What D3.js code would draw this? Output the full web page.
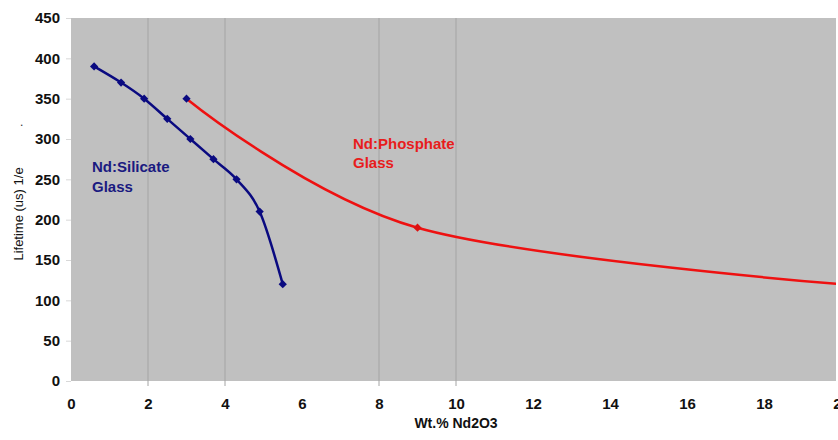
<!DOCTYPE html>
<html>
<head>
<meta charset="utf-8">
<script src="https://cdn.jsdelivr.net/npm/d3@7"></script>
<style>
  body { margin: 0; background: #fff; }
  text { font-family: "Liberation Sans", Arial, sans-serif; }
</style>
</head>
<body>
<svg id="chart"></svg>
<script>
// values
const silicateX = [0.6, 1.3, 1.9, 2.5, 3.1, 3.7, 4.3, 4.9, 5.5];
const silicateY = [390, 370, 350, 325, 300, 275, 250, 210, 120];
const phosphateX = [3, 9, 20];
const phosphateY = [350, 190, 120];
const xTicks = [0, 2, 4, 6, 8, 10, 12, 14, 16, 18, 20];
const yTicks = [0, 50, 100, 150, 200, 250, 300, 350, 400, 450];
const gridX = [2, 4, 8, 10];

function createChart() {
    const width = 838;
    const height = 440;
    const margin = { top: 18, left: 71, bottom: 59 };
    const plotRight = 836;
    const navy = "#0a0a80";
    const red = "#ee1111";

    const svg = d3.select("#chart")
        .attr("width", width)
        .attr("height", height);

    const xScale = d3.scaleLinear()
        .domain([0, 20])
        .range([margin.left, 841]);

    const yScale = d3.scaleLinear()
        .domain([0, 450])
        .range([height - margin.bottom, margin.top]);

    // plot background
    svg.append("rect")
        .attr("x", margin.left)
        .attr("y", yScale(450))
        .attr("width", plotRight - margin.left)
        .attr("height", yScale(0) - yScale(450))
        .attr("fill", "#c0c0c0");

    svg.append("clipPath")
        .attr("id", "plot-clip")
        .append("rect")
        .attr("x", margin.left)
        .attr("y", yScale(450))
        .attr("width", plotRight - margin.left)
        .attr("height", yScale(0) - yScale(450));

    // vertical grid lines
    svg.append("g")
        .selectAll("line")
        .data(gridX)
        .enter()
        .append("line")
        .attr("x1", d => xScale(d))
        .attr("x2", d => xScale(d))
        .attr("y1", yScale(450))
        .attr("y2", yScale(0) + 5)
        .attr("stroke", "#a4a4a4")
        .attr("stroke-width", 1);

    // y axis
    const yAxis = d3.axisLeft(yScale)
        .tickValues(yTicks)
        .tickSize(5)
        .tickPadding(6);

    const gy = svg.append("g")
        .attr("transform", `translate(${margin.left}, 0)`)
        .call(yAxis);
    gy.select(".domain").remove();
    gy.selectAll(".tick line").attr("stroke", "#d8d8d8");
    gy.selectAll(".tick text")
        .style("font-size", "15px")
        .style("font-weight", "bold")
        .attr("fill", "#111");

    // x axis
    const xAxis = d3.axisBottom(xScale)
        .tickValues(xTicks)
        .tickSize(0)
        .tickPadding(17);

    const gx = svg.append("g")
        .attr("transform", `translate(0, ${yScale(0)})`)
        .call(xAxis);
    gx.select(".domain").remove();
    gx.selectAll(".tick text")
        .style("font-size", "15px")
        .style("font-weight", "bold")
        .attr("fill", "#111");

    // lines
    const line = d3.line()
        .x(d => xScale(d[0]))
        .y(d => yScale(d[1]))
        .curve(d3.curveCardinal.tension(0));

    const silicate = silicateX.map((x, i) => [x, silicateY[i]]);
    const phosphate = phosphateX.map((x, i) => [x, phosphateY[i]]);

    const plot = svg.append("g").attr("clip-path", "url(#plot-clip)");

    plot.append("path")
        .datum(phosphate)
        .attr("d", line)
        .attr("fill", "none")
        .attr("stroke", red)
        .attr("stroke-width", 2.5);

    plot.append("path")
        .datum(silicate)
        .attr("d", line)
        .attr("fill", "none")
        .attr("stroke", navy)
        .attr("stroke-width", 2.5);

    // diamond markers
    const diamond = d3.symbol().type(d3.symbolSquare).size(34);

    // first phosphate marker is drawn dark blue in the original
    plot.selectAll(".pmark")
        .data(phosphate)
        .enter()
        .append("path")
        .attr("d", diamond)
        .attr("transform", d => `translate(${xScale(d[0])},${yScale(d[1])}) rotate(45)`)
        .attr("fill", (d, i) => i === 0 ? navy : "#dd1111");

    plot.selectAll(".smark")
        .data(silicate)
        .enter()
        .append("path")
        .attr("d", diamond)
        .attr("transform", d => `translate(${xScale(d[0])},${yScale(d[1])}) rotate(45)`)
        .attr("fill", navy);

    // series labels
    const silLabel = svg.append("text")
        .attr("x", 92)
        .attr("y", 172)
        .attr("fill", "#1a1a80")
        .style("font-size", "15px")
        .style("font-weight", "bold");
    silLabel.append("tspan").attr("x", 92).text("Nd:Silicate");
    silLabel.append("tspan").attr("x", 92).attr("dy", 20).text("Glass");

    const phosLabel = svg.append("text")
        .attr("x", 353)
        .attr("y", 149)
        .attr("fill", "#e81c1c")
        .style("font-size", "15px")
        .style("font-weight", "bold");
    phosLabel.append("tspan").attr("x", 353).text("Nd:Phosphate");
    phosLabel.append("tspan").attr("x", 353).attr("dy", 19).text("Glass");

    // axis titles
    svg.append("text")
        .attr("x", 456)
        .attr("y", 428)
        .style("text-anchor", "middle")
        .style("font-size", "14px")
        .style("font-weight", "bold")
        .attr("fill", "#111")
        .text("Wt.% Nd2O3");

    svg.append("text")
        .attr("transform", "translate(23, 214) rotate(-90)")
        .style("text-anchor", "middle")
        .style("font-size", "13px")
        .attr("fill", "#111")
        .text("Lifetime (us) 1/e");

    svg.append("text")
        .attr("x", 20)
        .attr("y", 126)
        .style("font-size", "12px")
        .attr("fill", "#333")
        .text(".");
}

createChart();
</script>
</body>
</html>
